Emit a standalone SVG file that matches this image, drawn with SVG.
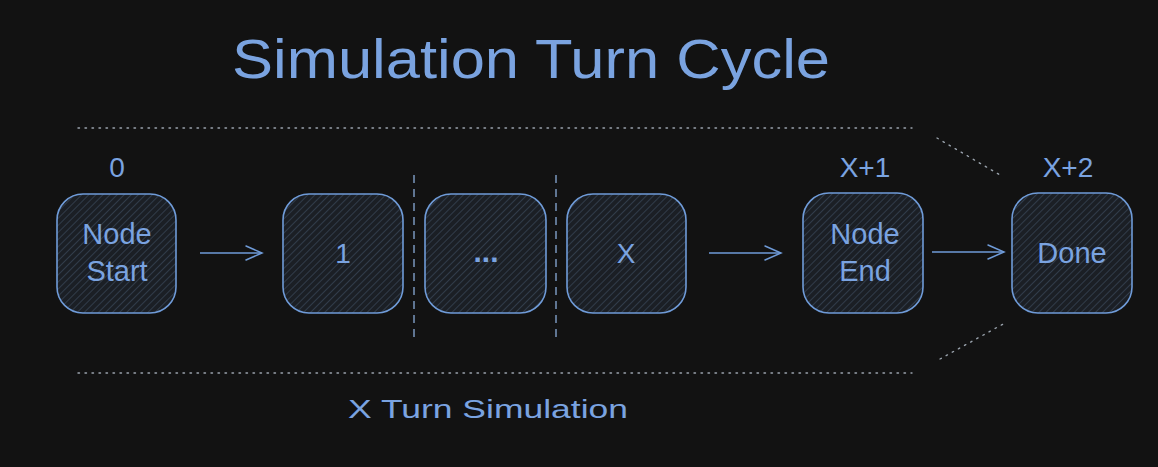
<svg xmlns="http://www.w3.org/2000/svg" width="1158" height="467" viewBox="0 0 1158 467">
<defs>
<pattern id="hatch" patternUnits="userSpaceOnUse" width="5" height="5" patternTransform="rotate(45)">
<rect width="5" height="5" fill="#1b1f25"/>
<line x1="0" y1="0" x2="0" y2="5" stroke="#3d4c5e" stroke-width="1.3"/>
</pattern>
<marker id="arr" markerWidth="20" markerHeight="20" refX="18" refY="10" orient="auto" markerUnits="userSpaceOnUse">
<path d="M2,3 L18,10 L2,17" fill="none" stroke="#6f9bd8" stroke-width="1.5" stroke-linecap="round"/>
</marker>
<style>
.box{fill:url(#hatch);stroke:#6f9bd8;stroke-width:1.6}
.t{font-family:"Liberation Sans","DejaVu Sans",sans-serif;fill:#7aa3e0;text-anchor:middle}
.dot{stroke:#9aa3ad;stroke-width:1.4;stroke-dasharray:1.5 5.5;fill:none;stroke-linecap:round}
.dash{stroke:#7a96bd;stroke-width:1.5;stroke-dasharray:8 6;fill:none}
.conn{stroke:#6f9bd8;stroke-width:1.5;fill:none;marker-end:url(#arr)}
</style>
</defs>
<rect width="1158" height="467" fill="#121212"/>
<text id="title" class="t" x="531" y="78" font-size="56" textLength="598" lengthAdjust="spacingAndGlyphs">Simulation Turn Cycle</text>
<g id="guides">
<line class="dot" x1="78" y1="128" x2="912" y2="128"/>
<line class="dot" x1="78" y1="373" x2="912" y2="373"/>
<line class="dot" x1="937" y1="138" x2="1000" y2="175"/>
<line class="dot" x1="940" y1="359" x2="1005" y2="323"/>
<line class="dash" x1="414" y1="175" x2="414" y2="338"/>
<line class="dash" x1="556" y1="175" x2="556" y2="338"/>
</g>
<g id="connectors">
<line class="conn" x1="200" y1="253" x2="262" y2="253"/>
<line class="conn" x1="709" y1="253" x2="781" y2="253"/>
<line class="conn" x1="932" y1="252" x2="1004" y2="252"/>
</g>
<g id="node-start">
<rect class="box" x="57" y="194" width="119" height="119" rx="26"/>
<text class="t" x="117" y="244" font-size="29">Node</text>
<text class="t" x="117" y="281" font-size="29">Start</text>
</g>
<g id="node-1">
<rect class="box" x="283" y="194" width="120" height="119" rx="26"/>
<text class="t" x="343" y="263" font-size="28">1</text>
</g>
<g id="node-dots">
<rect class="box" x="425" y="194" width="121" height="119" rx="26"/>
<text class="t" x="486" y="262" font-size="30" font-weight="bold">...</text>
</g>
<g id="node-x">
<rect class="box" x="567" y="194" width="119" height="119" rx="26"/>
<text class="t" x="626" y="263" font-size="28">X</text>
</g>
<g id="node-end">
<rect class="box" x="803" y="193" width="120" height="120" rx="26"/>
<text class="t" x="865" y="244" font-size="29">Node</text>
<text class="t" x="865" y="281" font-size="29">End</text>
</g>
<g id="node-done">
<rect class="box" x="1012" y="193" width="120" height="120" rx="26"/>
<text class="t" x="1072" y="263" font-size="29">Done</text>
</g>
<g id="labels">
<text class="t" x="117" y="177" font-size="28">0</text>
<text class="t" x="865" y="177" font-size="28">X+1</text>
<text class="t" x="1068" y="177" font-size="28">X+2</text>
<text class="t" x="488" y="418" font-size="26" textLength="280" lengthAdjust="spacingAndGlyphs">X Turn Simulation</text>
</g>
</svg>
